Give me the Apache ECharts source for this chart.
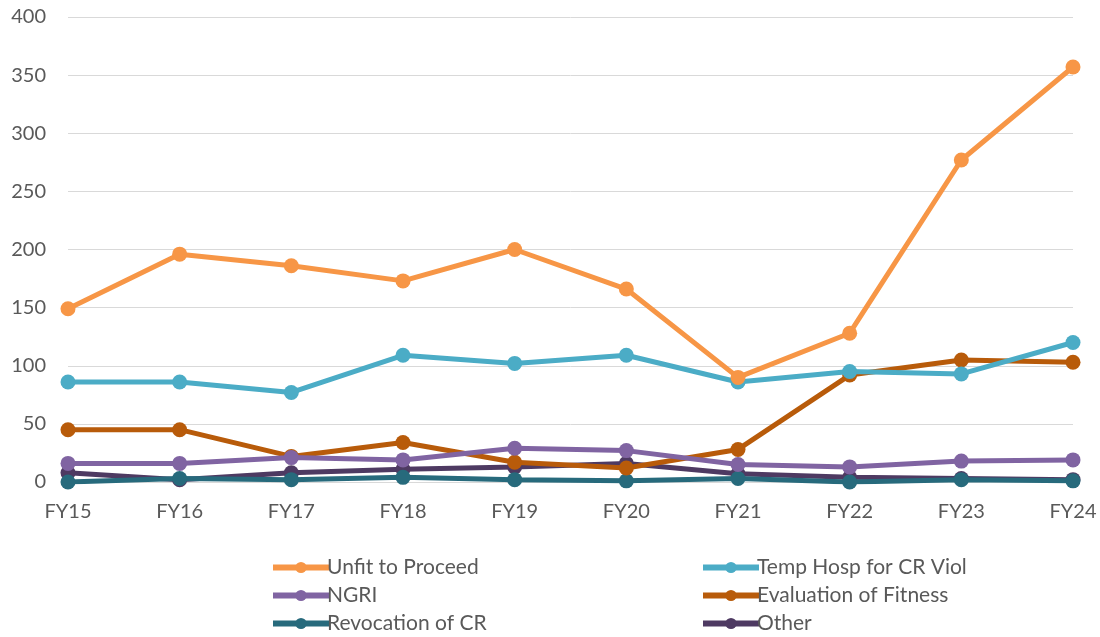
<!DOCTYPE html>
<html><head><meta charset="utf-8">
<script src="https://cdn.jsdelivr.net/npm/echarts@6/dist/echarts.min.js"></script>
<style>html,body{margin:0;padding:0;background:#fff}#c{width:1100px;height:637px}</style>
</head><body><div id="c"></div>
<script>
const categories = ['FY15','FY16','FY17','FY18','FY19','FY20','FY21','FY22','FY23','FY24'];
const unfitToProceed = [149,196,186,173,200,166,90,128,277,357];
const tempHospCRViol = [86,86,77,109,102,109,86,95,93,120];
const ngri = [16,16,21,19,29,27,15,13,18,19];
const evaluationOfFitness = [45,45,22,34,17,12,28,92,105,103];
const revocationOfCR = [0,3,2,4,2,1,3,0,2,1];
const other = [8,2,8,11,13,16,7,4,3,2];
const seriesNames = ['Unfit to Proceed','Temp Hosp for CR Viol','NGRI','Evaluation of Fitness','Revocation of CR','Other'];
const seriesColors = ['#F79646','#4BACC6','#8064A2','#B85B0A','#276A7C','#4E3A62'];
const seriesData = [unfitToProceed,tempHospCRViol,ngri,evaluationOfFitness,revocationOfCR,other];

const font = 'Lato, "Liberation Sans", sans-serif';
const chart = echarts.init(document.getElementById('c'));
function legendAt(left, names){
  return {
    orient:'vertical', left:left, top:552, height:100, width:320,
    itemWidth:56, itemHeight:14, itemGap:7, data:names,
    lineStyle:{width:6}, itemStyle:{},
    textStyle:{fontFamily:font, fontSize:21, color:'#595959', padding:[0,0,0,-7], lineHeight:19}
  };
}
chart.setOption({
  animation:false,
  grid:{left:68, top:17, width:1005, height:465, containLabel:false},
  legend:[
    legendAt(265, [seriesNames[0],seriesNames[2],seriesNames[4]]),
    legendAt(695, [seriesNames[1],seriesNames[3],seriesNames[5]])
  ],
  xAxis:{type:'category', data:categories, boundaryGap:false,
    axisLine:{show:false}, axisTick:{show:false},
    axisLabel:{fontFamily:font, fontSize:20, color:'#595959', margin:20}},
  yAxis:{type:'value', min:0, max:400, interval:50,
    axisLine:{show:false}, axisTick:{show:false},
    splitLine:{lineStyle:{color:'#D9D9D9', width:1}},
    axisLabel:{fontFamily:font, fontSize:20, color:'#595959', margin:22}},
  series: seriesNames.map((n,i)=>({
    name:n, type:'line', data:seriesData[i], symbol:'circle', symbolSize:15,
    color:seriesColors[i], lineStyle:{width:5, color:seriesColors[i]},
    itemStyle:{color:seriesColors[i]}, z: 10-i
  })).reverse()
});
</script></body></html>
